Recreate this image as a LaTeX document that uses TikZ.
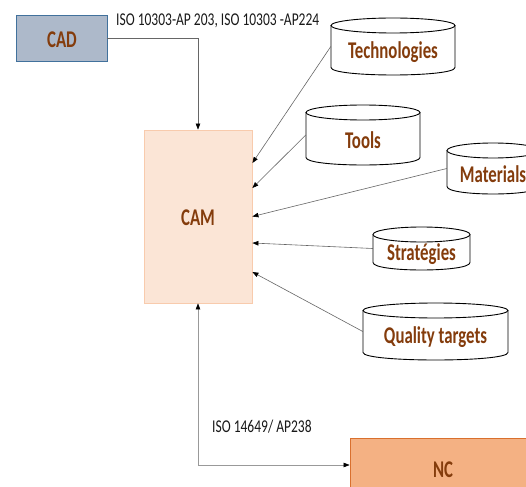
\documentclass[tikz,border=0pt]{standalone}
\usepackage{fontspec}
\setmainfont{Carlito}
\newfontfamily\lblfont[FakeStretch=0.7]{Carlito}
\newfontfamily\isofont[FakeStretch=0.75]{Carlito}
\usetikzlibrary{arrows.meta,calc}

\definecolor{txtbrown}{HTML}{843C0C}
\definecolor{cadfill}{HTML}{ADB9CA}
\definecolor{cadline}{HTML}{41719C}
\definecolor{camfill}{HTML}{FBE5D6}
\definecolor{camline}{HTML}{F8CBAD}
\definecolor{ncfill}{HTML}{F4B183}
\definecolor{ncline}{HTML}{D9702E}

\tikzset{
  lbl/.style={font=\lblfont\bfseries\fontsize{24}{28}\selectfont, text=txtbrown, inner sep=0pt},
  iso/.style={font=\isofont\fontsize{18}{21}\selectfont, text=black!90, inner sep=0pt, anchor=west},
  tip/.style={Triangle[length=6pt,width=4.5pt,color=black]},
  feed/.style={draw=black!60, line width=0.6pt, -{Triangle[length=6pt,width=4.5pt,color=black]}},
  cylline/.style={draw=black, line width=0.9pt}
}

% database cylinder: name, centre x, top y, bottom y, half width, text
\newcommand\dbcyl[6]{%
  \pgfmathsetmacro\cl{#2-#5}\pgfmathsetmacro\cr{#2+#5}%
  \pgfmathsetmacro\tc{#3+7.5}\pgfmathsetmacro\bc{#4-7.5}\pgfmathsetmacro\bq{#4-7.5+10}%
  \pgfmathsetmacro\my{(#3+#4)/2}\pgfmathsetmacro\ty{(#3+15+#4)/2-2}%
  \fill[white] (\cl,\tc) -- (\cl,\bc) .. controls (\cl,\bq) and (\cr,\bq) .. (\cr,\bc) -- (\cr,\tc) -- cycle;
  \draw[cylline] (\cl,\tc) -- (\cl,\bc) .. controls (\cl,\bq) and (\cr,\bq) .. (\cr,\bc) -- (\cr,\tc);
  \draw[cylline, fill=white] (#2,\tc) ellipse [x radius=#5pt, y radius=7.5pt];
  \node[minimum width={2*#5pt}, minimum height={(#4-#3)*1pt}, inner sep=0pt] (#1) at (#2,\my) {};
  \node[lbl] at (#2,\ty) {#6};
}

\begin{document}
\begin{tikzpicture}[x=1pt,y=-1pt]
\useasboundingbox (0,0) rectangle (526,486);
\fill[white] (0,0) rectangle (526,486);

% main blocks
\node[draw=cadline, fill=cadfill, line width=0.8pt, minimum width=91pt, minimum height=46pt, inner sep=0pt] (cad) at (61.5,38.5) {};
\node[lbl] at (62,40) {CAD};

\node[draw=camline, fill=camfill, line width=0.8pt, minimum width=108pt, minimum height=173pt, inner sep=0pt] (cam) at (198,216.5) {};
\node[lbl] at (198,218) {CAM};

\node[draw=ncline, fill=ncfill, line width=0.8pt, minimum width=186pt, minimum height=64pt, inner sep=0pt] (nc) at (443,470) {};
\node[lbl] at (443,470) {NC};

% data sources
\dbcyl{tech}{393}{18}{75}{62}{Technologies}
\dbcyl{tools}{363}{105}{165}{57}{Tools}
\dbcyl{mat}{493}{143}{194}{46}{Materials}
\dbcyl{strat}{421.5}{227}{270}{48.5}{Stratégies}
\dbcyl{qual}{435.5}{303}{360}{72.5}{Quality targets}

% exchange standards
\node[iso] (isoa) at (116,21) {ISO 10303-AP 203, ISO 10303 -AP224};
\node[iso] (isob) at (212,427) {ISO 14649/ AP238};

% connectors
\draw[feed] (cad.east) -| (cam.north);
\draw[feed] (tech.west) -- ([yshift=53.5pt]cam.east);
\draw[feed] (tools.west) -- ([yshift=28.5pt]cam.east);
\draw[feed] (mat.west) -- ([yshift=0pt]cam.east);
\draw[feed] (strat.west) -- ([yshift=-26.5pt]cam.east);
\draw[feed] (qual.west) -- ([yshift=-55.5pt]cam.east);

\coordinate (ncin) at ([yshift=5pt]nc.west);
\draw[draw=black!40, line width=0.6pt, {Triangle[length=6pt,width=4.5pt,color=black]}-{Triangle[length=6pt,width=4.5pt,color=black]}] (cam.south) -- (cam.south |- ncin) -- (ncin);
\end{tikzpicture}
\end{document}
